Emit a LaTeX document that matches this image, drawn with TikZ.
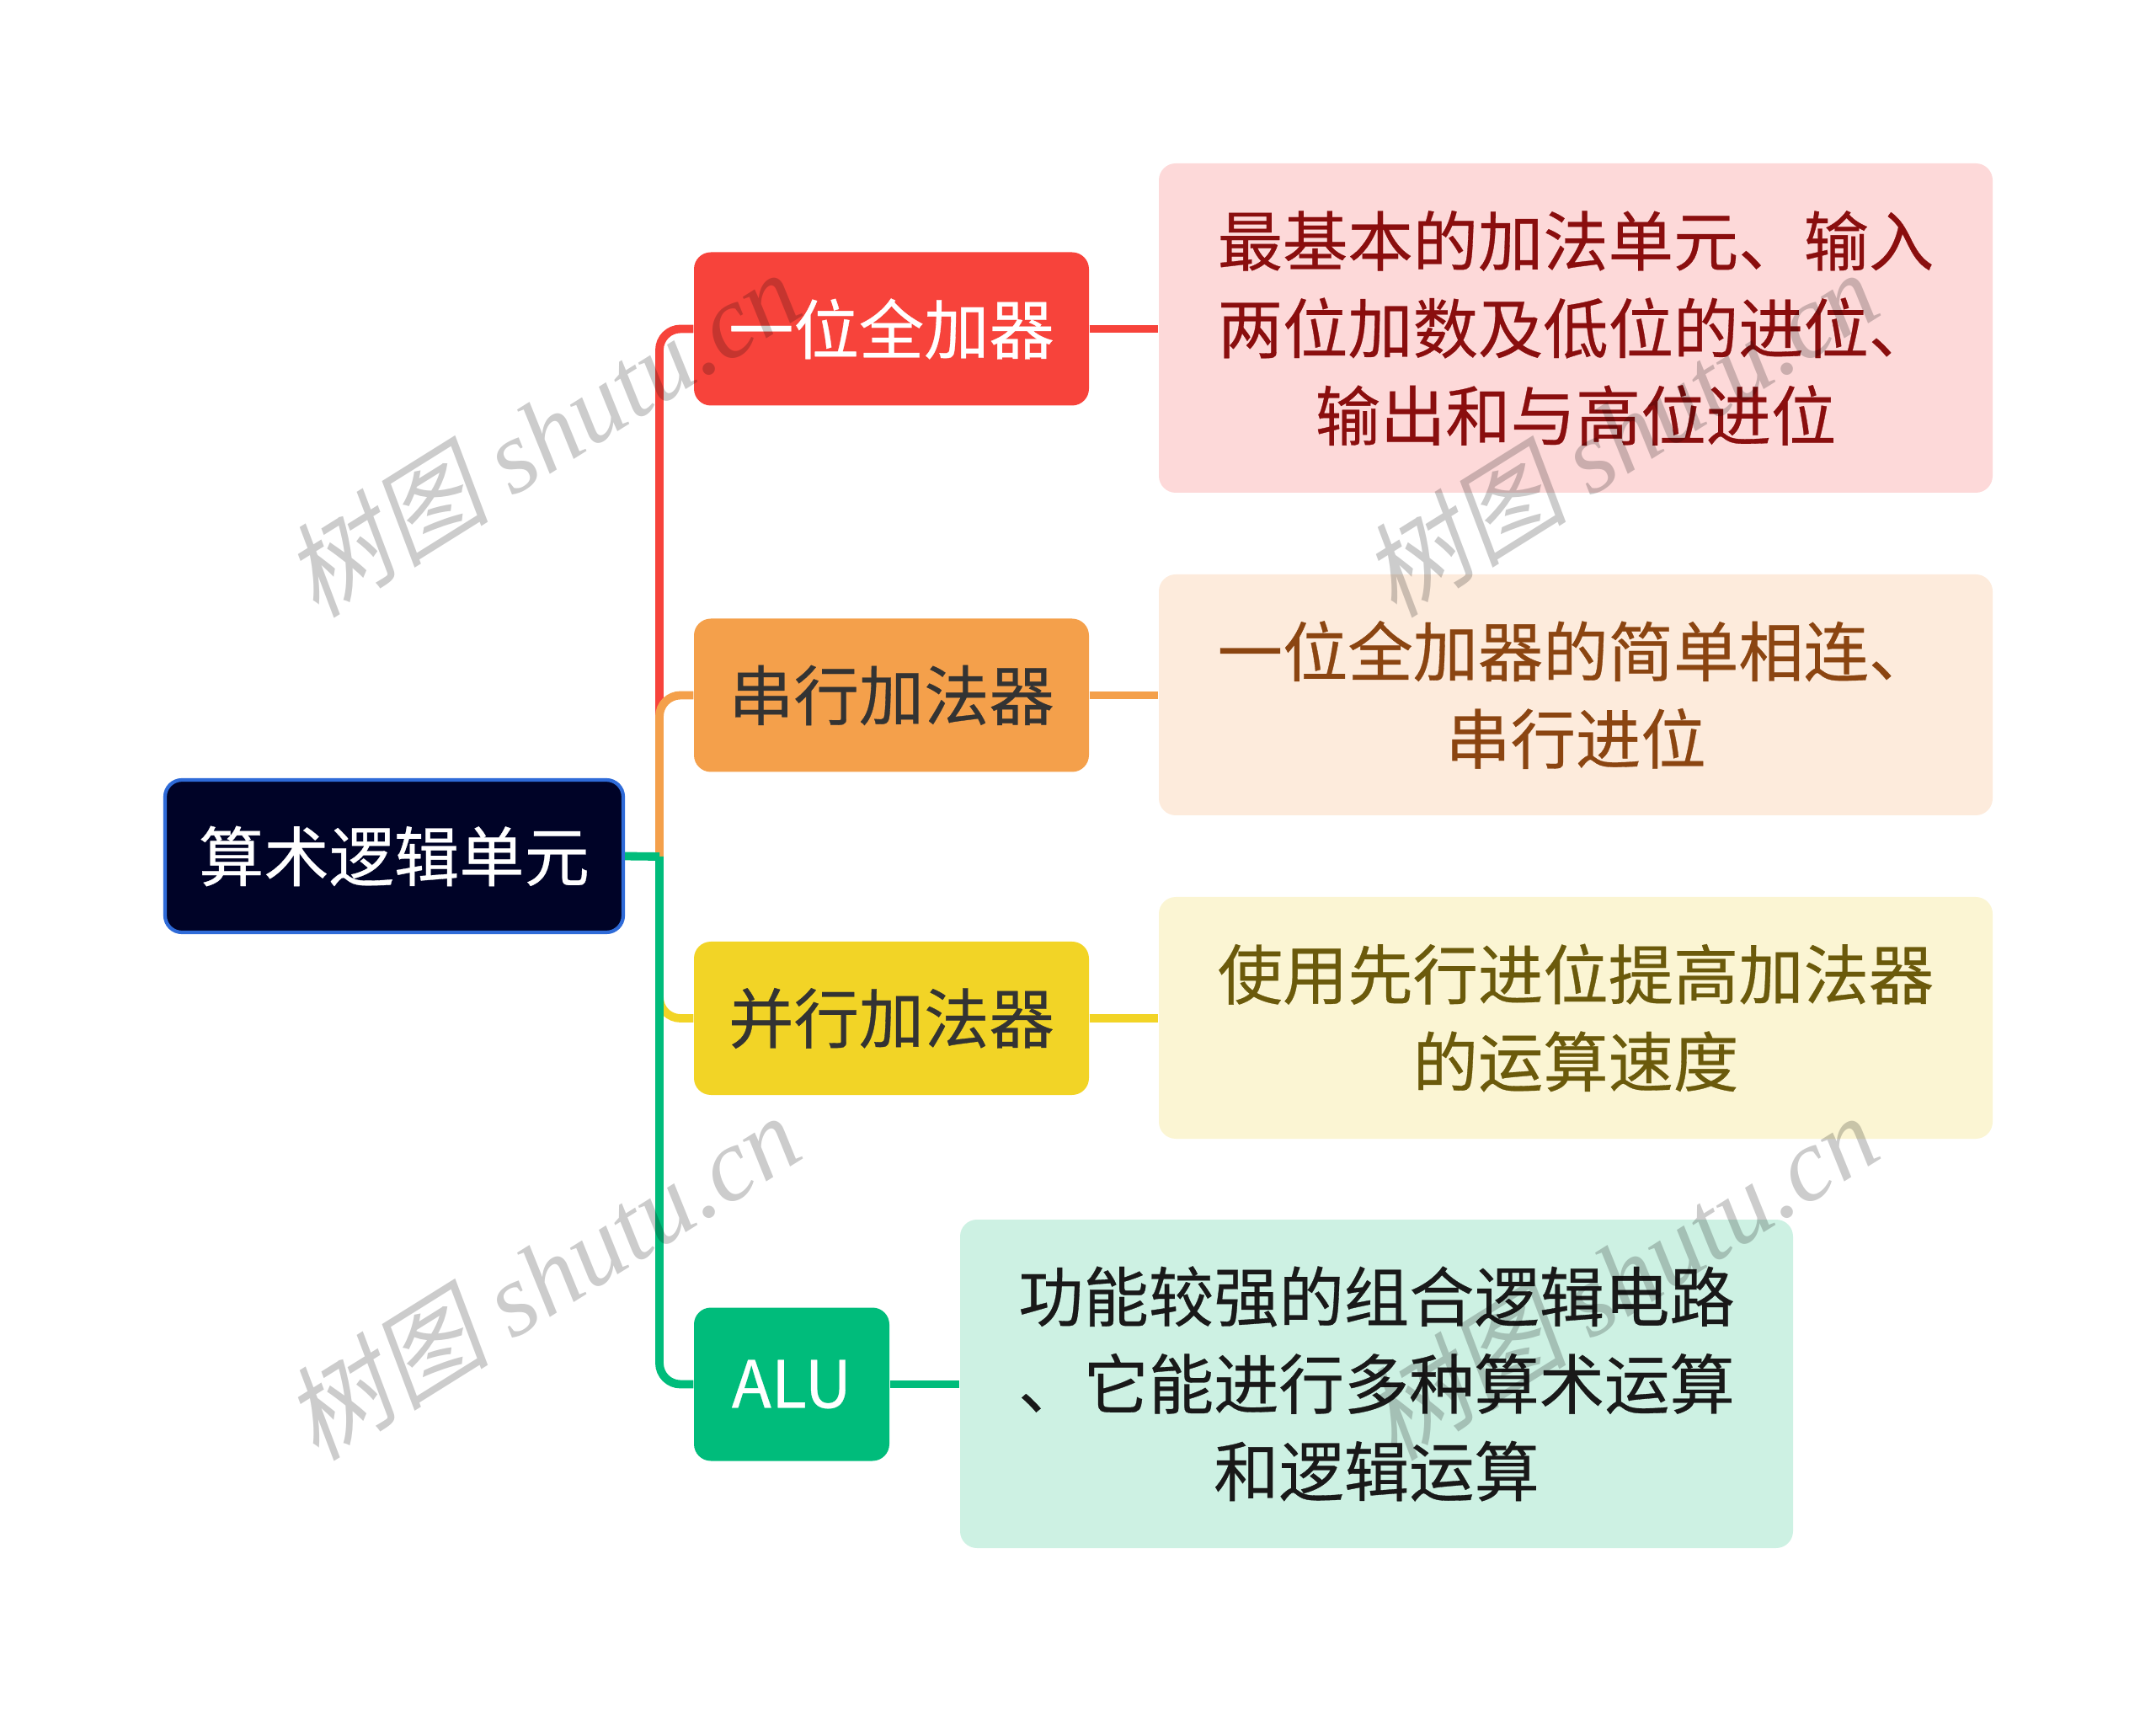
\documentclass[tikz,border=0pt]{standalone}
\usepackage{fontspec}
\setmainfont{Noto Sans CJK SC}[FakeBold=0.4]
\newfontfamily\wmcjk{Noto Sans CJK SC}[FakeSlant=0.2]
\newfontfamily\wmlatin{Liberation Serif}
\usepackage{tikz}
\usetikzlibrary{positioning,calc}
\usepackage{xcolor}

\definecolor{rootfill}{HTML}{000327}
\definecolor{rootline}{HTML}{2F6BD8}
\definecolor{cred}{HTML}{F7433B}
\definecolor{corange}{HTML}{F4A04B}
\definecolor{cyellow}{HTML}{F2D426}
\definecolor{cgreen}{HTML}{00BC7B}
\definecolor{dred}{HTML}{FDD9D9}
\definecolor{dorange}{HTML}{FDEBDC}
\definecolor{dyellow}{HTML}{FBF5D3}
\definecolor{dgreen}{HTML}{CDF1E3}
\definecolor{tred}{HTML}{8A0E0E}
\definecolor{torange}{HTML}{8B4511}
\definecolor{tyellow}{HTML}{6B5A0B}
\definecolor{tdark}{HTML}{333333}

\begin{document}
\begin{tikzpicture}[
    box/.style={rounded corners=0.2cm, minimum height=1.82cm, align=center,
        font=\fontsize{22}{29.5}\selectfont, inner sep=0pt},
    topic/.style={box, minimum width=4.69cm},
    desc/.style={box, minimum width=9.9cm},
    link/.style={line width=2.8pt},
    wmark/.style={black, opacity=0.2, rotate=32, font=\fontsize{35}{40}\selectfont}
]
    \useasboundingbox (0,0) rectangle (25.6,20.34);
    \coordinate (trunk) at (7.83,10.17);

    \node[box, fill=rootfill, draw=rootline, line width=1.2pt, text=white, minimum width=5.44cm, minimum height=1.81cm] (root) at (4.68,10.175) {算术逻辑单元};

    \node[topic, fill=cred, text=white] (adder) at (10.585,16.435) {一位全加器};
    \node[topic, fill=corange, text=tdark] (serial) at (10.585,12.085) {串行加法器};
    \node[topic, fill=cyellow, text=tdark] (parallel) at (10.585,8.25) {并行加法器};
    \node[box, fill=cgreen, text=white, minimum width=2.32cm] (alu) at (9.40,3.905) {ALU};

    \node[desc, fill=dred, text=tred, minimum height=3.91cm] (adderdesc) at (18.71,16.445) {最基本的加法单元、输入\\两位加数及低位的进位、\\输出和与高位进位};
    \node[desc, fill=dorange, text=torange, minimum height=2.86cm] (serialdesc) at (18.71,12.09) {一位全加器的简单相连、\\串行进位};
    \node[desc, fill=dyellow, text=tyellow, minimum height=2.87cm] (paralleldesc) at (18.71,8.255) {使用先行进位提高加法器\\的运算速度};
    \node[desc, fill=dgreen, text=black!90, minimum height=3.9cm, minimum width=9.89cm] (aludesc) at (16.345,3.91) {功能较强的组合逻辑电路\\、它能进行多种算术运算\\和逻辑运算};

    % branches from the root
    \draw[link, cred, rounded corners=0.25cm] (trunk) |- (adder.west);
    \draw[link, corange, rounded corners=0.25cm] (trunk) |- (serial.west);
    \draw[link, cyellow, rounded corners=0.25cm] (trunk) |- (parallel.west);
    \draw[link, cgreen, rounded corners=0.25cm] (trunk) |- (alu.west);
    \draw[link, cgreen] (root.east) -- (trunk);

    % topic to description
    \draw[link, cred] (adder.east) -- (adderdesc.west |- adder.east);
    \draw[link, corange] (serial.east) -- (serialdesc.west |- serial.east);
    \draw[link, cyellow] (parallel.east) -- (paralleldesc.west |- parallel.east);
    \draw[link, cgreen] (alu.east) -- (aludesc.west |- alu.east);

    % watermarks
    \foreach \wx/\wy in {6.43/15.2, 6.43/5.19, 19.23/15.2, 19.23/5.19}
        \node[wmark] (wm) at (\wx,\wy) {{\wmcjk 树图} {\wmlatin\itshape shutu.cn}};
\end{tikzpicture}
\end{document}
